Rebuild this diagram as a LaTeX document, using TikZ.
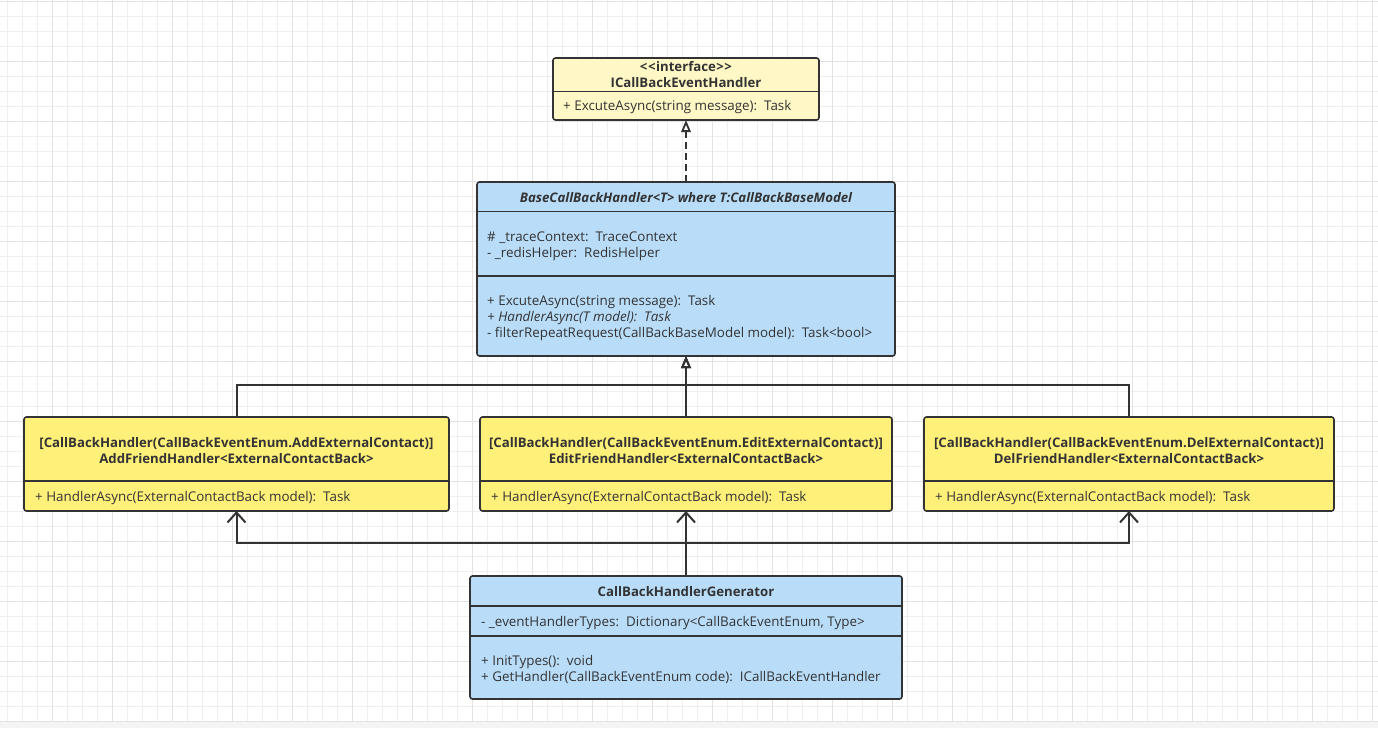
\documentclass[tikz,border=0pt]{standalone}
\usepackage{fontspec}
\setmainfont{Open Sans}
\usetikzlibrary{arrows.meta}
\definecolor{gridminor}{HTML}{EFEFEF}
\definecolor{gridmajor}{HTML}{E2E2E2}
\definecolor{ink}{HTML}{333333}
\definecolor{paleyellow}{HTML}{FFF8C6}
\definecolor{lightblue}{HTML}{B9DDF9}
\definecolor{brightyellow}{HTML}{FFF07A}
\tikzset{
  umlbox/.style={draw=ink, line width=1.6pt, rounded corners=2.5pt, anchor=north west, inner sep=0pt, outer sep=0pt},
  divider/.style={draw=ink, line width=1.6pt},
  txt/.style={text=ink, inner sep=0pt, yshift=-2.5pt, font=\fontsize{13.4}{15}\selectfont},
  ttl/.style={txt, anchor=mid, font=\fontsize{13.2}{15}\selectfont\bfseries},
  mem/.style={txt, anchor=mid west},
  inh/.style={draw=ink, line width=2pt, -{Triangle[open, length=12pt, width=9.5pt, line width=1.8pt]}},
  real/.style={inh, dash pattern=on 7pt off 4pt},
  dep/.style={draw=ink, line width=2pt, -{Straight Barb[length=10pt, width=18pt, line width=2pt]}},
}
\begin{document}
\begin{tikzpicture}[x=1pt,y=-1pt]
\useasboundingbox (0,0) rectangle (1378,728);
\fill[white] (0,0) rectangle (1378,728);
% grid
\foreach \x in {7,22,...,1380} \draw[gridminor, line width=1pt] (\x,0) -- (\x,722);
\foreach \y in {1,16,...,722} \draw[gridminor, line width=1pt] (0,\y) -- (1378,\y);
\foreach \x in {52,112,...,1380} \draw[gridmajor, line width=1pt] (\x,0) -- (\x,722);
\foreach \y in {1,61,...,722} \draw[gridmajor, line width=1pt] (0,\y) -- (1378,\y);
\fill[gridminor!70] (0,722) rectangle (1378,728);

% interface box
\node[umlbox, fill=paleyellow, minimum width=266pt, minimum height=62pt] (iface) at (553,58) {};
\draw[divider] (553,91.5) -- (819,91.5);
\node[ttl] (ifst) at (686,66) {<\kern0.5pt<\kern0.5pt interface\kern0.5pt>\kern0.5pt>};
\node[ttl] (ifnm) at (686,82) {ICallBackEventHandler};
\node[mem] (ifm1) at (563,105) {+ ExcuteAsync(string message):\ \ Task};

% base box
\node[umlbox, fill=lightblue, minimum width=418pt, minimum height=174pt] (base) at (477,182) {};
\draw[divider] (477,211.5) -- (895,211.5);
\draw[divider] (477,276) -- (895,276);
\node[ttl, font=\fontsize{13.2}{15}\selectfont\bfseries\itshape] (bnm) at (686,197) {BaseCallBackHandler<T> where T:CallBackBaseModel};
\node[mem] (ba1) at (487,236.5) {\# \_traceContext:\ \ TraceContext};
\node[mem] (ba2) at (487,252.5) {- \_redisHelper:\ \ RedisHelper};
\node[mem] (bm1) at (487,300.5) {+ ExcuteAsync(string message):\ \ Task};
\node[mem, font=\fontsize{13.4}{15}\selectfont\itshape] (bm2) at (487,316.5) {+ HandlerAsync(T model):\ \ Task};
\node[mem] (bm3) at (487,332.5) {- filterRepeatRequest(CallBackBaseModel model):\ \ Task<bool>};

% three handlers
\node[umlbox, fill=brightyellow, minimum width=425pt, minimum height=94pt] (addh) at (24,417) {};
\draw[divider] (24,481) -- (449,481);
\node[ttl] (addt1) at (236.5,442) {[CallBackHandler(CallBackEventEnum.AddExternalContact)]};
\node[ttl] (addt2) at (236.5,458) {AddFriendHandler<ExternalContactBack>};
\node[mem] (addm) at (35,496.5) {+ HandlerAsync(ExternalContactBack model):\ \ Task};

\node[umlbox, fill=brightyellow, minimum width=412pt, minimum height=94pt] (edith) at (480,417) {};
\draw[divider] (480,481) -- (892,481);
\node[ttl] (edt1) at (686,442) {[CallBackHandler(CallBackEventEnum.EditExternalContact)]};
\node[ttl] (edt2) at (686,458) {EditFriendHandler<ExternalContactBack>};
\node[mem] (edm) at (491,496.5) {+ HandlerAsync(ExternalContactBack model):\ \ Task};

\node[umlbox, fill=brightyellow, minimum width=410pt, minimum height=94pt] (delh) at (924,417) {};
\draw[divider] (924,481) -- (1334,481);
\node[ttl] (delt1) at (1129,442) {[CallBackHandler(CallBackEventEnum.DelExternalContact)]};
\node[ttl] (delt2) at (1129,458) {DelFriendHandler<ExternalContactBack>};
\node[mem] (delm) at (935,496.5) {+ HandlerAsync(ExternalContactBack model):\ \ Task};

% generator
\node[umlbox, fill=lightblue, minimum width=432pt, minimum height=123pt] (gen) at (470,576) {};
\draw[divider] (470,606) -- (902,606);
\draw[divider] (470,636) -- (902,636);
\node[ttl] (gnm) at (686,591.5) {CallBackHandlerGenerator};
\node[mem] (ga1) at (481,621.5) {- \_eventHandlerTypes:\ \ Dictionary<CallBackEventEnum, Type>};
\node[mem] (gm1) at (481,660) {+ InitTypes():\ \ void};
\node[mem] (gm2) at (481,676.5) {+ GetHandler(CallBackEventEnum code):\ \ ICallBackEventHandler};

% connectors
\draw[real] (base.north) -- (iface.south);
\draw[inh] (edith.north) -- (base.south);
\draw[inh] (addh.north) -- ++(0,-32) -| (base.south);
\draw[inh] (delh.north) -- ++(0,-32) -| (base.south);
\coordinate (jd) at (686,543);
\draw[dep] (gen.north) -- (edith.south);
\draw[dep] (jd) -| (addh.south);
\draw[dep] (jd) -| (delh.south);
\end{tikzpicture}
\end{document}
